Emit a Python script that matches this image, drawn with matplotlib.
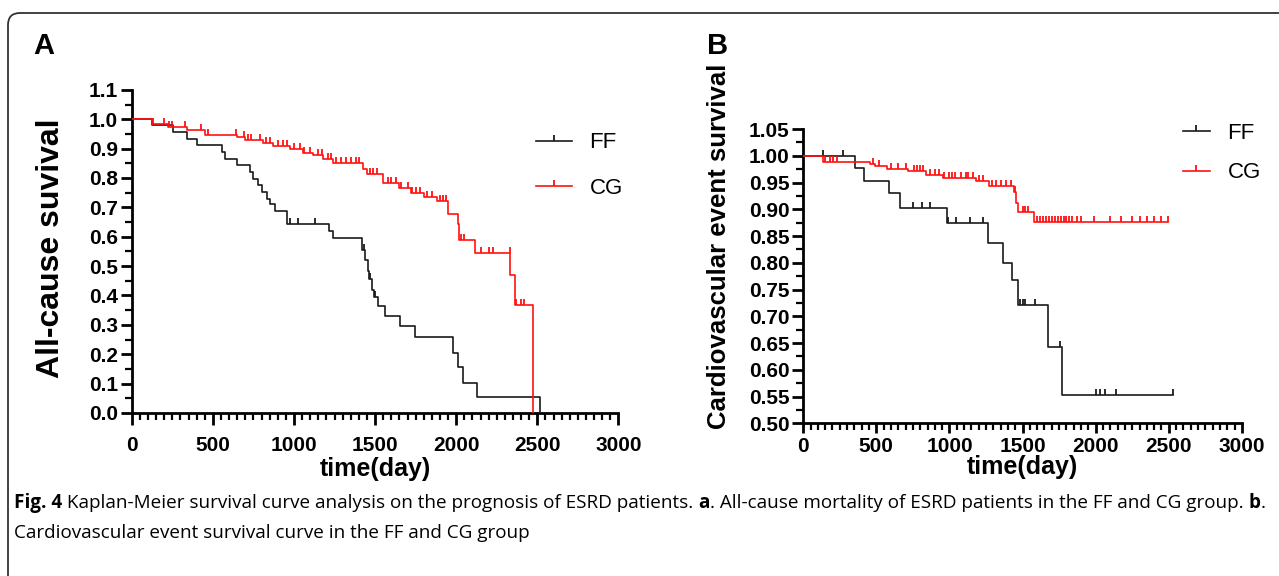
import matplotlib
matplotlib.use("Agg")
import matplotlib.pyplot as plt
import numpy as np
from matplotlib.lines import Line2D
from matplotlib.patches import FancyBboxPatch

# Panel A: all-cause survival (event time in days, survival after the step)
a_ff_t = [123, 253, 339, 401, 555, 575, 647, 729, 750, 781, 801, 832, 853, 884, 956,
          1218, 1243, 1418, 1440, 1455, 1465, 1480, 1495, 1515, 1562, 1654, 1747,
          1983, 2014, 2044, 2127, 2517]
a_ff_s = [0.980, 0.958, 0.932, 0.911, 0.888, 0.866, 0.843, 0.820, 0.798, 0.775, 0.752,
          0.729, 0.710, 0.687, 0.642, 0.619, 0.596, 0.556, 0.520, 0.485, 0.455, 0.420,
          0.395, 0.365, 0.331, 0.297, 0.258, 0.204, 0.158, 0.103, 0.054, 0.0]
a_ff_cens = [976, 1027, 1130, 1430, 1470, 1500]

a_cg_t = [123, 226, 339, 452, 647, 698, 811, 873, 976, 1058, 1120, 1181, 1243, 1428,
          1453, 1551, 1650, 1720, 1800, 1880, 1952, 2014, 2020, 2117, 2332, 2363, 2476]
a_cg_s = [0.983, 0.975, 0.962, 0.948, 0.938, 0.930, 0.920, 0.909, 0.898, 0.886, 0.877,
          0.863, 0.852, 0.829, 0.812, 0.784, 0.765, 0.750, 0.735, 0.720, 0.676, 0.642,
          0.590, 0.543, 0.471, 0.369, 0.0]
a_cg_cens = [130, 200, 230, 250, 330, 430, 470, 640, 690, 715, 735, 790, 830, 850, 900,
             930, 960, 1000, 1040, 1060, 1100, 1150, 1170, 1210, 1230, 1260, 1290, 1320,
             1350, 1380, 1400, 1470, 1490, 1510, 1580, 1600, 1630, 1660, 1700, 1730,
             1750, 1780, 1820, 1850, 1900, 1920, 1940, 2030, 2050, 2150, 2200, 2230,
             2330, 2370, 2400, 2420]

# Panel B: cardiovascular event survival
b_ff_t = [353, 415, 586, 661, 980, 1265, 1367, 1431, 1470, 1675, 1773]
b_ff_s = [0.977, 0.952, 0.930, 0.903, 0.874, 0.837, 0.800, 0.768, 0.721, 0.642, 0.553]
b_ff_cens = [137, 273, 752, 809, 866, 991, 1048, 1139, 1230, 1480, 1500, 1515, 1584,
             1755, 2005, 2028, 2062, 2142, 2529]

b_cg_t = [137, 456, 490, 570, 718, 843, 957, 1185, 1271, 1440, 1455, 1470, 1575]
b_cg_s = [0.989, 0.985, 0.980, 0.975, 0.971, 0.964, 0.958, 0.952, 0.943, 0.933, 0.912,
          0.895, 0.876]
b_cg_cens = [150, 180, 205, 230, 480, 520, 600, 650, 700, 760, 780, 800, 820, 870, 900,
             930, 960, 1000, 1020, 1040, 1080, 1110, 1130, 1160, 1200, 1230, 1290, 1320,
             1350, 1390, 1420, 1450, 1500, 1520, 1540, 1600, 1620, 1640, 1660, 1680,
             1700, 1720, 1740, 1760, 1780, 1800, 1820, 1840, 1870, 1900, 1990, 2100,
             2170, 2250, 2300, 2350, 2400, 2450, 2493]

BLACK = "#1a1a1a"
RED = "#ff1010"
plt.rcParams["font.family"] = ["Liberation Sans", "DejaVu Sans"]


def km(ax, t, s, cens, color, end=None):
    xs = [0] + list(t)
    ys = [1.0] + list(s)
    if end is not None:
        xs.append(end)
        ys.append(ys[-1])
    ax.step(xs, ys, where="post", color=color, lw=1.2, zorder=3)
    xs_arr = np.array([0] + list(t))
    ys_arr = np.array([1.0] + list(s))
    cy = ys_arr[np.searchsorted(xs_arr, cens, side="right") - 1]
    ax.plot(cens, cy, linestyle="none", marker=2, markersize=4, mew=1.3,
            color=color, zorder=3)


def style(ax, ylim, major, minor, fmt, xlen, xpad):
    ax.set_xlim(0, 3000)
    ax.set_ylim(*ylim)
    for sp in ["top", "right"]:
        ax.spines[sp].set_visible(False)
    for sp in ["left", "bottom"]:
        ax.spines[sp].set_linewidth(2.0)
    ax.set_xticks(np.arange(0, 3001, 500))
    ax.set_xticks(np.arange(0, 3001, 50), minor=True)
    ax.set_yticks(np.arange(ylim[0], ylim[1] + 1e-9, major))
    ax.set_yticks(np.arange(ylim[0], ylim[1] + 1e-9, minor), minor=True)
    ax.yaxis.set_major_formatter(matplotlib.ticker.FormatStrFormatter(fmt))
    ax.tick_params(which="major", length=8, width=2.0, labelsize=15, pad=2)
    ax.tick_params(which="minor", length=5, width=1.6)
    ax.tick_params(axis="x", which="major", length=xlen, pad=xpad)
    for lab in ax.get_xticklabels() + ax.get_yticklabels():
        lab.set_fontweight("bold")


fig = plt.figure(figsize=(12.79, 5.76), dpi=100)

box = FancyBboxPatch((0.08, -0.5), 13.5, 6.13, boxstyle="round,pad=0,rounding_size=0.12",
                     transform=fig.dpi_scale_trans, fill=False, lw=1.3, ec="#333333")
fig.patches.append(box)

# Panel A
axA = fig.add_axes([0.103, 0.283, 0.3805, 0.561])
km(axA, a_ff_t, a_ff_s, a_ff_cens, BLACK)
km(axA, a_cg_t, a_cg_s, a_cg_cens, RED)
style(axA, (0.0, 1.1), 0.1, 0.05, "%.1f", 8.5, 8.0)
axA.set_ylabel("All-cause suvival", fontsize=23, fontweight="bold")
axA.yaxis.set_label_coords(-0.135, 0.51)
axA.set_xlabel("time(day)", fontsize=18, fontweight="bold")
axA.xaxis.set_label_coords(0.5, -0.135)

# Panel B
axB = fig.add_axes([0.628, 0.265, 0.343, 0.511])
km(axB, b_ff_t, b_ff_s, b_ff_cens, BLACK, end=2529)
km(axB, b_cg_t, b_cg_s, b_cg_cens, RED, end=2493)
style(axB, (0.50, 1.05), 0.05, 0.025, "%.2f", 7.0, 2.5)
axB.set_ylabel("Cardiovascular event survival", fontsize=18.5, fontweight="bold")
axB.yaxis.set_label_coords(-0.164, 0.6)
axB.set_xlabel("time(day)", fontsize=18, fontweight="bold")
axB.xaxis.set_label_coords(0.5, -0.107)

handles = [Line2D([0], [0], color=BLACK, lw=1.2, marker=2, markersize=4, mew=1.3),
           Line2D([0], [0], color=RED, lw=1.2, marker=2, markersize=4, mew=1.3)]
axA.legend(handles, ["FF", "CG"], loc="upper left", bbox_to_anchor=(0.79, 0.93),
           frameon=False, fontsize=16, handlelength=1.6, labelspacing=1.1,
           numpoints=1)
axB.legend(handles, ["FF", "CG"], loc="upper left", bbox_to_anchor=(0.82, 1.09),
           frameon=False, fontsize=16, handlelength=1.2, labelspacing=0.85,
           numpoints=1)

fig.text(0.026, 0.92, "A", fontsize=21, fontweight="bold", va="center")
fig.text(0.553, 0.92, "B", fontsize=21, fontweight="bold", va="center")

# Caption with mixed bold/regular pieces
line1 = [("Fig. 4", "bold"),
         (" Kaplan-Meier survival curve analysis on the prognosis of ESRD patients. ", "normal"),
         ("a", "bold"),
         (". All-cause mortality of ESRD patients in the FF and CG group. ", "normal"),
         ("b", "bold"), (".", "normal")]
line2 = [("Cardiovascular event survival curve in the FF and CG group", "normal")]
renderer = fig.canvas.get_renderer()
for pieces, ypix in [(line1, 503), (line2, 533)]:
    x = 14
    for txt, w in pieces:
        t = fig.text(x / 1279, 1 - ypix / 576, txt, fontsize=13.6, fontweight=w,
                     family=["Open Sans", "DejaVu Sans"], va="center", ha="left")
        bb = t.get_window_extent(renderer)
        x += bb.width

fig.savefig("out.png", dpi=100)
